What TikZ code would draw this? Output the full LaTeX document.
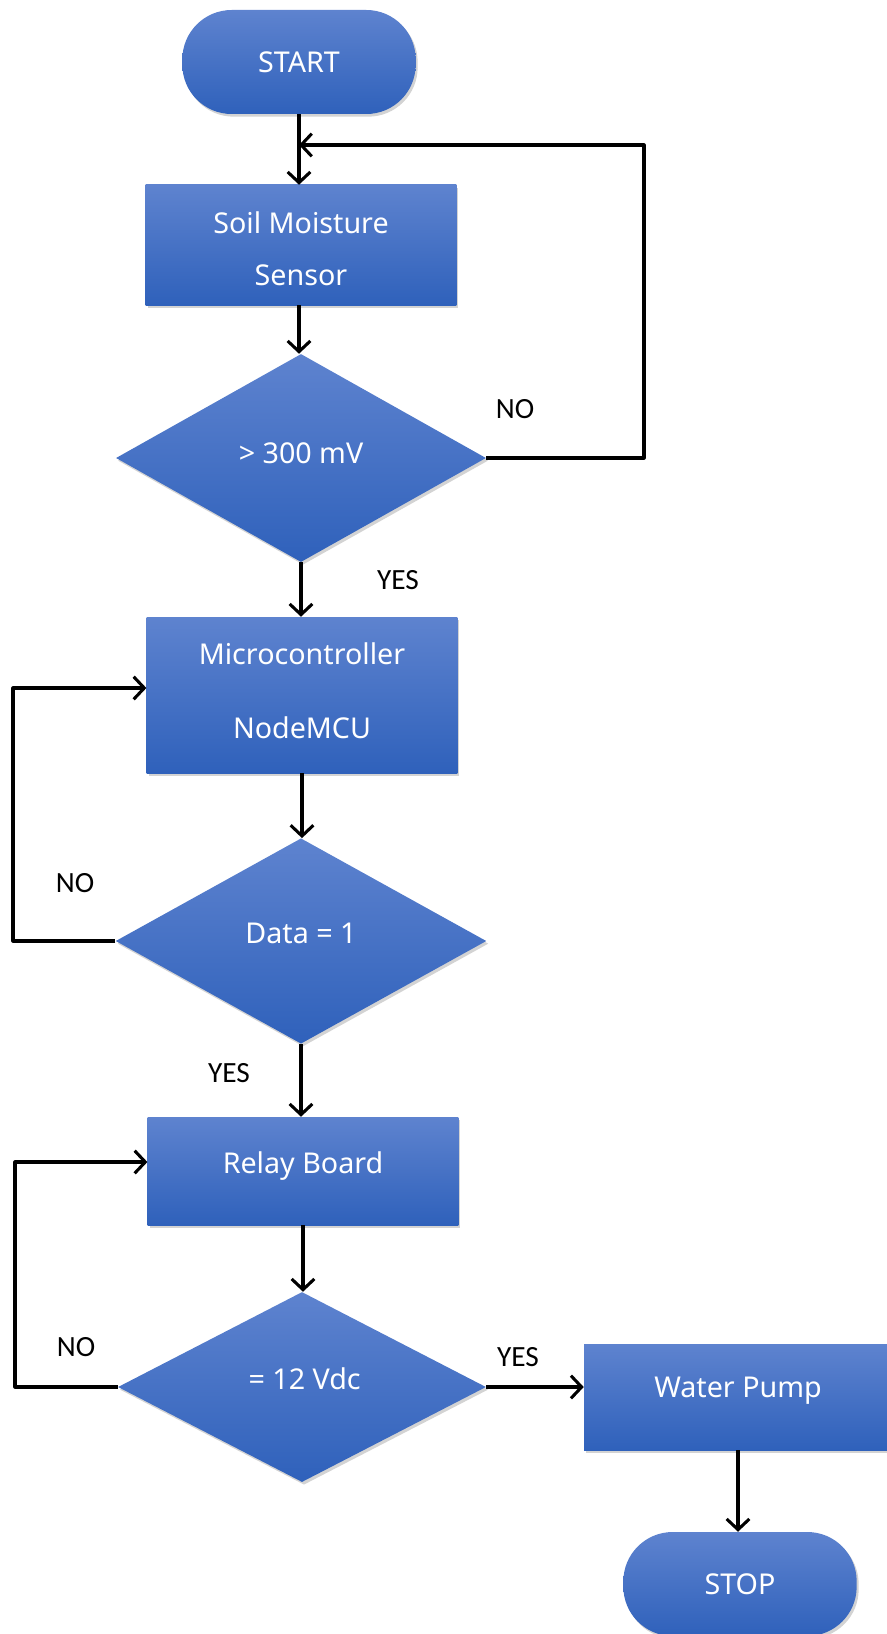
\documentclass[tikz,border=0pt]{standalone}
\usepackage{fontspec}
\setmainfont{Noto Sans}
\newfontfamily\lblfont{Carlito}
\usetikzlibrary{shapes.geometric,arrows.meta,shadows}
\definecolor{bluetop}{RGB}{94,131,207}
\definecolor{bluebot}{RGB}{47,97,187}
\tikzset{
  shapebase/.style={top color=bluetop, bottom color=bluebot, draw=none,
    text=white, font=\fontsize{21.5}{39}\selectfont, align=center, inner sep=0pt,
    drop shadow={opacity=0.35, shadow xshift=1.5pt, shadow yshift=-2pt}},
  procbox/.style={shapebase, rectangle, minimum width=233pt},
  termbox/.style={shapebase, rectangle, rounded corners=37pt, minimum width=175pt, minimum height=78pt},
  decbox/.style={shapebase, diamond},
  arr/.style={line width=2.3pt, line join=round, -{Straight Barb[length=8pt,width=17pt,line width=2.3pt]}},
  lnk/.style={line width=2.3pt, line join=round},
  yn/.style={font=\lblfont\fontsize{22}{24}\selectfont, text=black, inner sep=0pt}
}
\begin{document}
\begin{tikzpicture}[x=0.75pt,y=-0.75pt]
\useasboundingbox (0,0) rectangle (887,1634);
\clip (0,0) rectangle (887,1634);
\node[termbox] (start) at (299,62) {START};
\node[procbox, minimum height=90pt] (soil) at (301,245) {\raisebox{-8pt}[0pt][0pt]{\begin{tabular}{@{}c@{}}Soil Moisture\\Sensor\end{tabular}}};
\node[decbox, minimum width=277.5pt, minimum height=156pt] (d1) at (301,458) {\raisebox{8pt}{{>} 300 mV}};
\node[procbox, minimum height=117pt, font=\fontsize{21.5}{55}\selectfont] (micro) at (302,695) {\raisebox{1pt}[0pt][0pt]{\begin{tabular}{@{}c@{}}Microcontroller\\NodeMCU\end{tabular}}};
\node[decbox, minimum width=278pt, minimum height=154pt] (d2) at (301,941) {\raisebox{12pt}{Data = 1}};
\node[procbox, minimum height=81pt] (relay) at (303,1171) {\raisebox{12pt}{Relay Board}};
\node[decbox, minimum width=276pt, minimum height=142.5pt] (d3) at (302,1387) {\hspace*{4pt}\raisebox{12pt}{= 12 Vdc}};
\node[procbox, minimum width=231pt, minimum height=79.5pt] (pump) at (738,1397) {\raisebox{14pt}{Water Pump}};
\node[termbox] (stop) at (740,1584) {STOP};

\coordinate (fbR) at (644,145);
\coordinate (L1) at (13,688);
\coordinate (L2) at (15,1162);

\draw[arr] (start.south) -- (start.south |- soil.north);
\draw[arr] (d1.east) -| (fbR) -- (fbR -| start.south);
\draw[arr] (soil.south -| start.south) -- (d1.north -| start.south);
\draw[arr] (d1.south) -- (d1.south |- micro.north);
\draw[arr] (micro.south) -- (micro.south |- d2.north);
\draw[arr] (d2.west) -| (L1) -- (L1 -| micro.west);
\draw[arr] (d2.south) -- (d2.south |- relay.north);
\draw[arr] (relay.south) -- (relay.south |- d3.north);
\draw[arr] (d3.west) -| (L2) -- (L2 -| relay.west);
\draw[arr] (d3.east) -- (d3.east -| pump.west);
\draw[arr] (pump.south) -- (pump.south |- stop.north);

\node[yn] (no1) at (515,409) {NO};
\node[yn] (yes1) at (398,580) {YES};
\node[yn] (no2) at (75,883) {NO};
\node[yn] (yes2) at (229,1073) {YES};
\node[yn] (no3) at (76,1347) {NO};
\node[yn] (yes3) at (518,1357) {YES};
\end{tikzpicture}
\end{document}
